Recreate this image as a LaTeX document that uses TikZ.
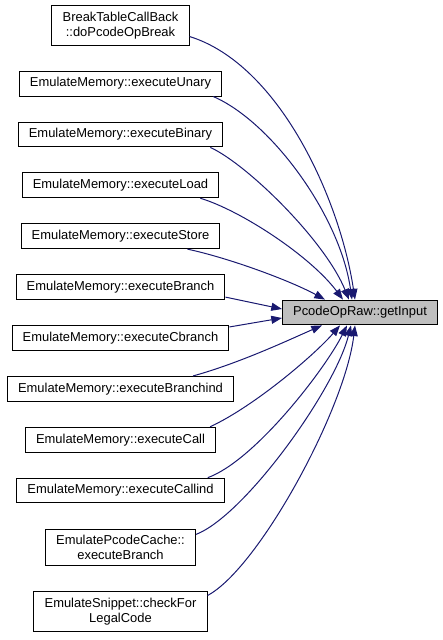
\documentclass[tikz,border=0pt]{standalone}
\usepackage{fontspec}
\setmainfont{Liberation Sans}
\usetikzlibrary{arrows.meta, positioning, calc}
\definecolor{DoxyBlue}{HTML}{191970}
\definecolor{DoxyGray}{HTML}{BFBFBF}
\tikzset{
    % Caller box style
    caller/.style={
        rectangle,
        draw=black,
        fill=white,
        line width=0.75pt,
        inner xsep=8pt,
        inner ysep=4.6pt,
        minimum height=18.6pt,
        align=center,
        font=\fontsize{9.7}{11.25}\selectfont
    },
    % Called function style
    callee/.style={
        caller,
        fill=DoxyGray
    },
    % Call arrow style
    callarrow/.style={
        -{Triangle[length=8pt, width=6pt]},
        line width=0.75pt,
        color=DoxyBlue
    }
}

\begin{document}
\begin{tikzpicture}[x=0.75pt, y=-0.75pt, node distance=18.8pt]
        \useasboundingbox (0,0) rectangle (443,640);

        % Callers
        \node (brk) [caller] at (120.5,25.5) {BreakTableCallBack\\::doPcodeOpBreak};
        \node (unary) [caller, below=of brk] {EmulateMemory::executeUnary};
        \node (binary) [caller, below=of unary] {EmulateMemory::executeBinary};
        \node (load) [caller, below=of binary] {EmulateMemory::executeLoad};
        \node (store) [caller, below=of load] {EmulateMemory::executeStore};
        \node (branch) [caller, below=of store] {EmulateMemory::executeBranch};
        \node (cbranch) [caller, below=of branch] {EmulateMemory::executeCbranch};
        \node (brind) [caller, below=of cbranch] {EmulateMemory::executeBranchind};
        \node (call) [caller, below=of brind] {EmulateMemory::executeCall};
        \node (callind) [caller, below=of call] {EmulateMemory::executeCallind};
        \node (cache) [caller, below=of callind] {EmulatePcodeCache::\\executeBranch};
        \node (snip) [caller, below=of cache] {EmulateSnippet::checkFor\\LegalCode};

        % Callee
        \node (tgt) [callee] at (360,312.5) {PcodeOpRaw::getInput};

        % Calls from above
        \draw [callarrow] ($(brk.east)+(0,11)$) .. controls +(90,28) and +(-15,-100) .. ($(tgt.north)+(-5,0)$);
        \draw [callarrow] ($(unary.south east)+(-9,0)$) .. controls +(58,25) and +(-12,-84) .. ($(tgt.north)+(-8,0)$);
        \draw [callarrow] ($(binary.south east)+(-13,0)$) .. controls +(37,17) and +(-24,-59) .. ($(tgt.north)+(-11,0)$);
        \draw [callarrow] ($(load.south east)+(-19,0)$) .. controls +(40,12) and +(-33,-44) .. ($(tgt.north)+(-17,0)$);
        \draw [callarrow] ($(store.south east)+(-33,0)$) .. controls +(42,9) and +(-35,-19) .. ($(tgt.north)+(-35,0)$);

        % Calls from the side
        \draw [callarrow] ($(branch.east)+(0,10)$) -- ($(tgt.west)+(0,-3.5)$);
        \draw [callarrow] ($(cbranch.east)+(0,-11)$) -- ($(tgt.west)+(0,5.5)$);

        % Calls from below
        \draw [callarrow] ($(brind.north east)+(-41,0)$) .. controls +(47,-13) and +(-32,14) .. ($(tgt.south)+(-38,0)$);
        \draw [callarrow] ($(call.north east)+(-6,0)$) .. controls +(45,-21) and +(-25,29) .. ($(tgt.south)+(-20,0)$);
        \draw [callarrow] ($(callind.north east)+(-17,0)$) .. controls +(47,-17) and +(-22,44) .. ($(tgt.south)+(-13,0)$);
        \draw [callarrow] ($(cache.east)+(0,-13)$) .. controls +(49,-19) and +(-16,64) .. ($(tgt.south)+(-9,0)$);
        \draw [callarrow] ($(snip.east)+(0,-16)$) .. controls +(51,-27) and +(-10,84) .. ($(tgt.south)+(-5,0)$);
    \end{tikzpicture}
\end{document}
